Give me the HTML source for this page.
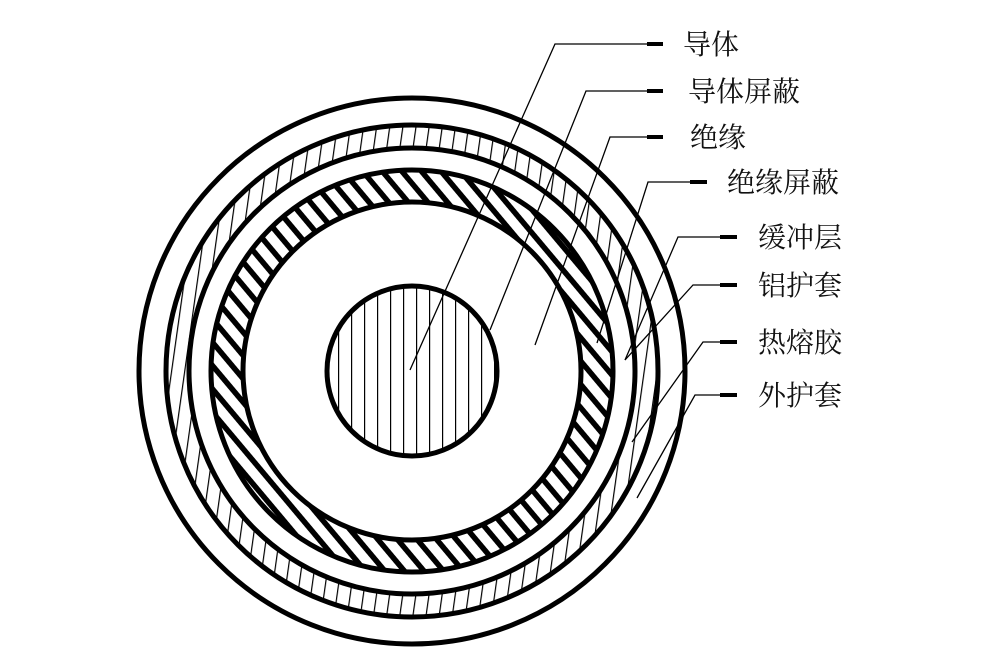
<!DOCTYPE html>
<html><head><meta charset="utf-8"><style>
html,body{margin:0;padding:0;background:#fff;width:1000px;height:662px;overflow:hidden}
text{font-family:"Liberation Serif","Noto Serif CJK SC",serif;font-size:28px;fill:#111}
</style></head><body>
<svg width="1000" height="662" viewBox="0 0 1000 662" xmlns="http://www.w3.org/2000/svg">
<defs>
<pattern id="thick" patternUnits="userSpaceOnUse" width="15" height="15" patternTransform="rotate(-40)">
<rect x="0" y="0" width="5.5" height="15" fill="#000"/>
</pattern>
<pattern id="vert" patternUnits="userSpaceOnUse" width="13" height="13" patternTransform="rotate(8)">
<rect x="0" y="0" width="1.2" height="13" fill="#000"/>
</pattern>
<pattern id="vert2" patternUnits="userSpaceOnUse" width="13" height="13">
<rect x="0" y="0" width="1.2" height="13" fill="#000"/>
</pattern>
<clipPath id="band"><path clip-rule="evenodd" d="M412,125a246,246 0 1,0 0.01,0zM412,148a223,223 0 1,0 0.01,0z"/></clipPath>
<clipPath id="hring"><path clip-rule="evenodd" d="M412,170a201,201 0 1,0 0.01,0zM412,202a169,169 0 1,0 0.01,0z"/></clipPath>
</defs>
<rect x="150" y="110" width="530" height="530" fill="url(#vert)" clip-path="url(#band)"/>
<rect x="200" y="160" width="430" height="430" fill="url(#thick)" clip-path="url(#hring)"/>
<circle cx="412" cy="371" r="85" fill="url(#vert2)"/>
<g fill="none" stroke="#000">
<circle cx="412" cy="371" r="273" stroke-width="5"/>
<circle cx="412" cy="371" r="246" stroke-width="5"/>
<circle cx="412" cy="371" r="223" stroke-width="5"/>
<circle cx="412" cy="371" r="201" stroke-width="5"/>
<circle cx="412" cy="371" r="169" stroke-width="5"/>
<circle cx="412" cy="371" r="85" stroke-width="5"/>
</g>
<g fill="none" stroke="#000" stroke-width="1.3">
<polyline points="410,370 555,44 663,44"/>
<polyline points="490,330 586,91 663,91"/>
<polyline points="535,345 610,137 663,137"/>
<polyline points="597,343 648,182 707,182"/>
<polyline points="625,360 678,237 737,237"/>
<polyline points="625,360 693,285 737,285"/>
<polyline points="632,442 703,342 737,342"/>
<polyline points="637,498 695,395 737,395"/>
</g>
<g stroke="#000" stroke-width="4">
<line x1="647" y1="44" x2="663" y2="44"/>
<line x1="647" y1="91" x2="663" y2="91"/>
<line x1="647" y1="137" x2="663" y2="137"/>
<line x1="690" y1="182" x2="707" y2="182"/>
<line x1="720" y1="237" x2="737" y2="237"/>
<line x1="720" y1="285" x2="737" y2="285"/>
<line x1="720" y1="342" x2="737" y2="342"/>
<line x1="720" y1="395" x2="737" y2="395"/>
</g>
<text x="683" y="54">导体</text>
<text x="688" y="101">导体屏蔽</text>
<text x="690" y="147">绝缘</text>
<text x="727" y="192">绝缘屏蔽</text>
<text x="758" y="247">缓冲层</text>
<text x="758" y="295">铝护套</text>
<text x="758" y="352">热熔胶</text>
<text x="758" y="405">外护套</text>
</svg>
</body></html>
